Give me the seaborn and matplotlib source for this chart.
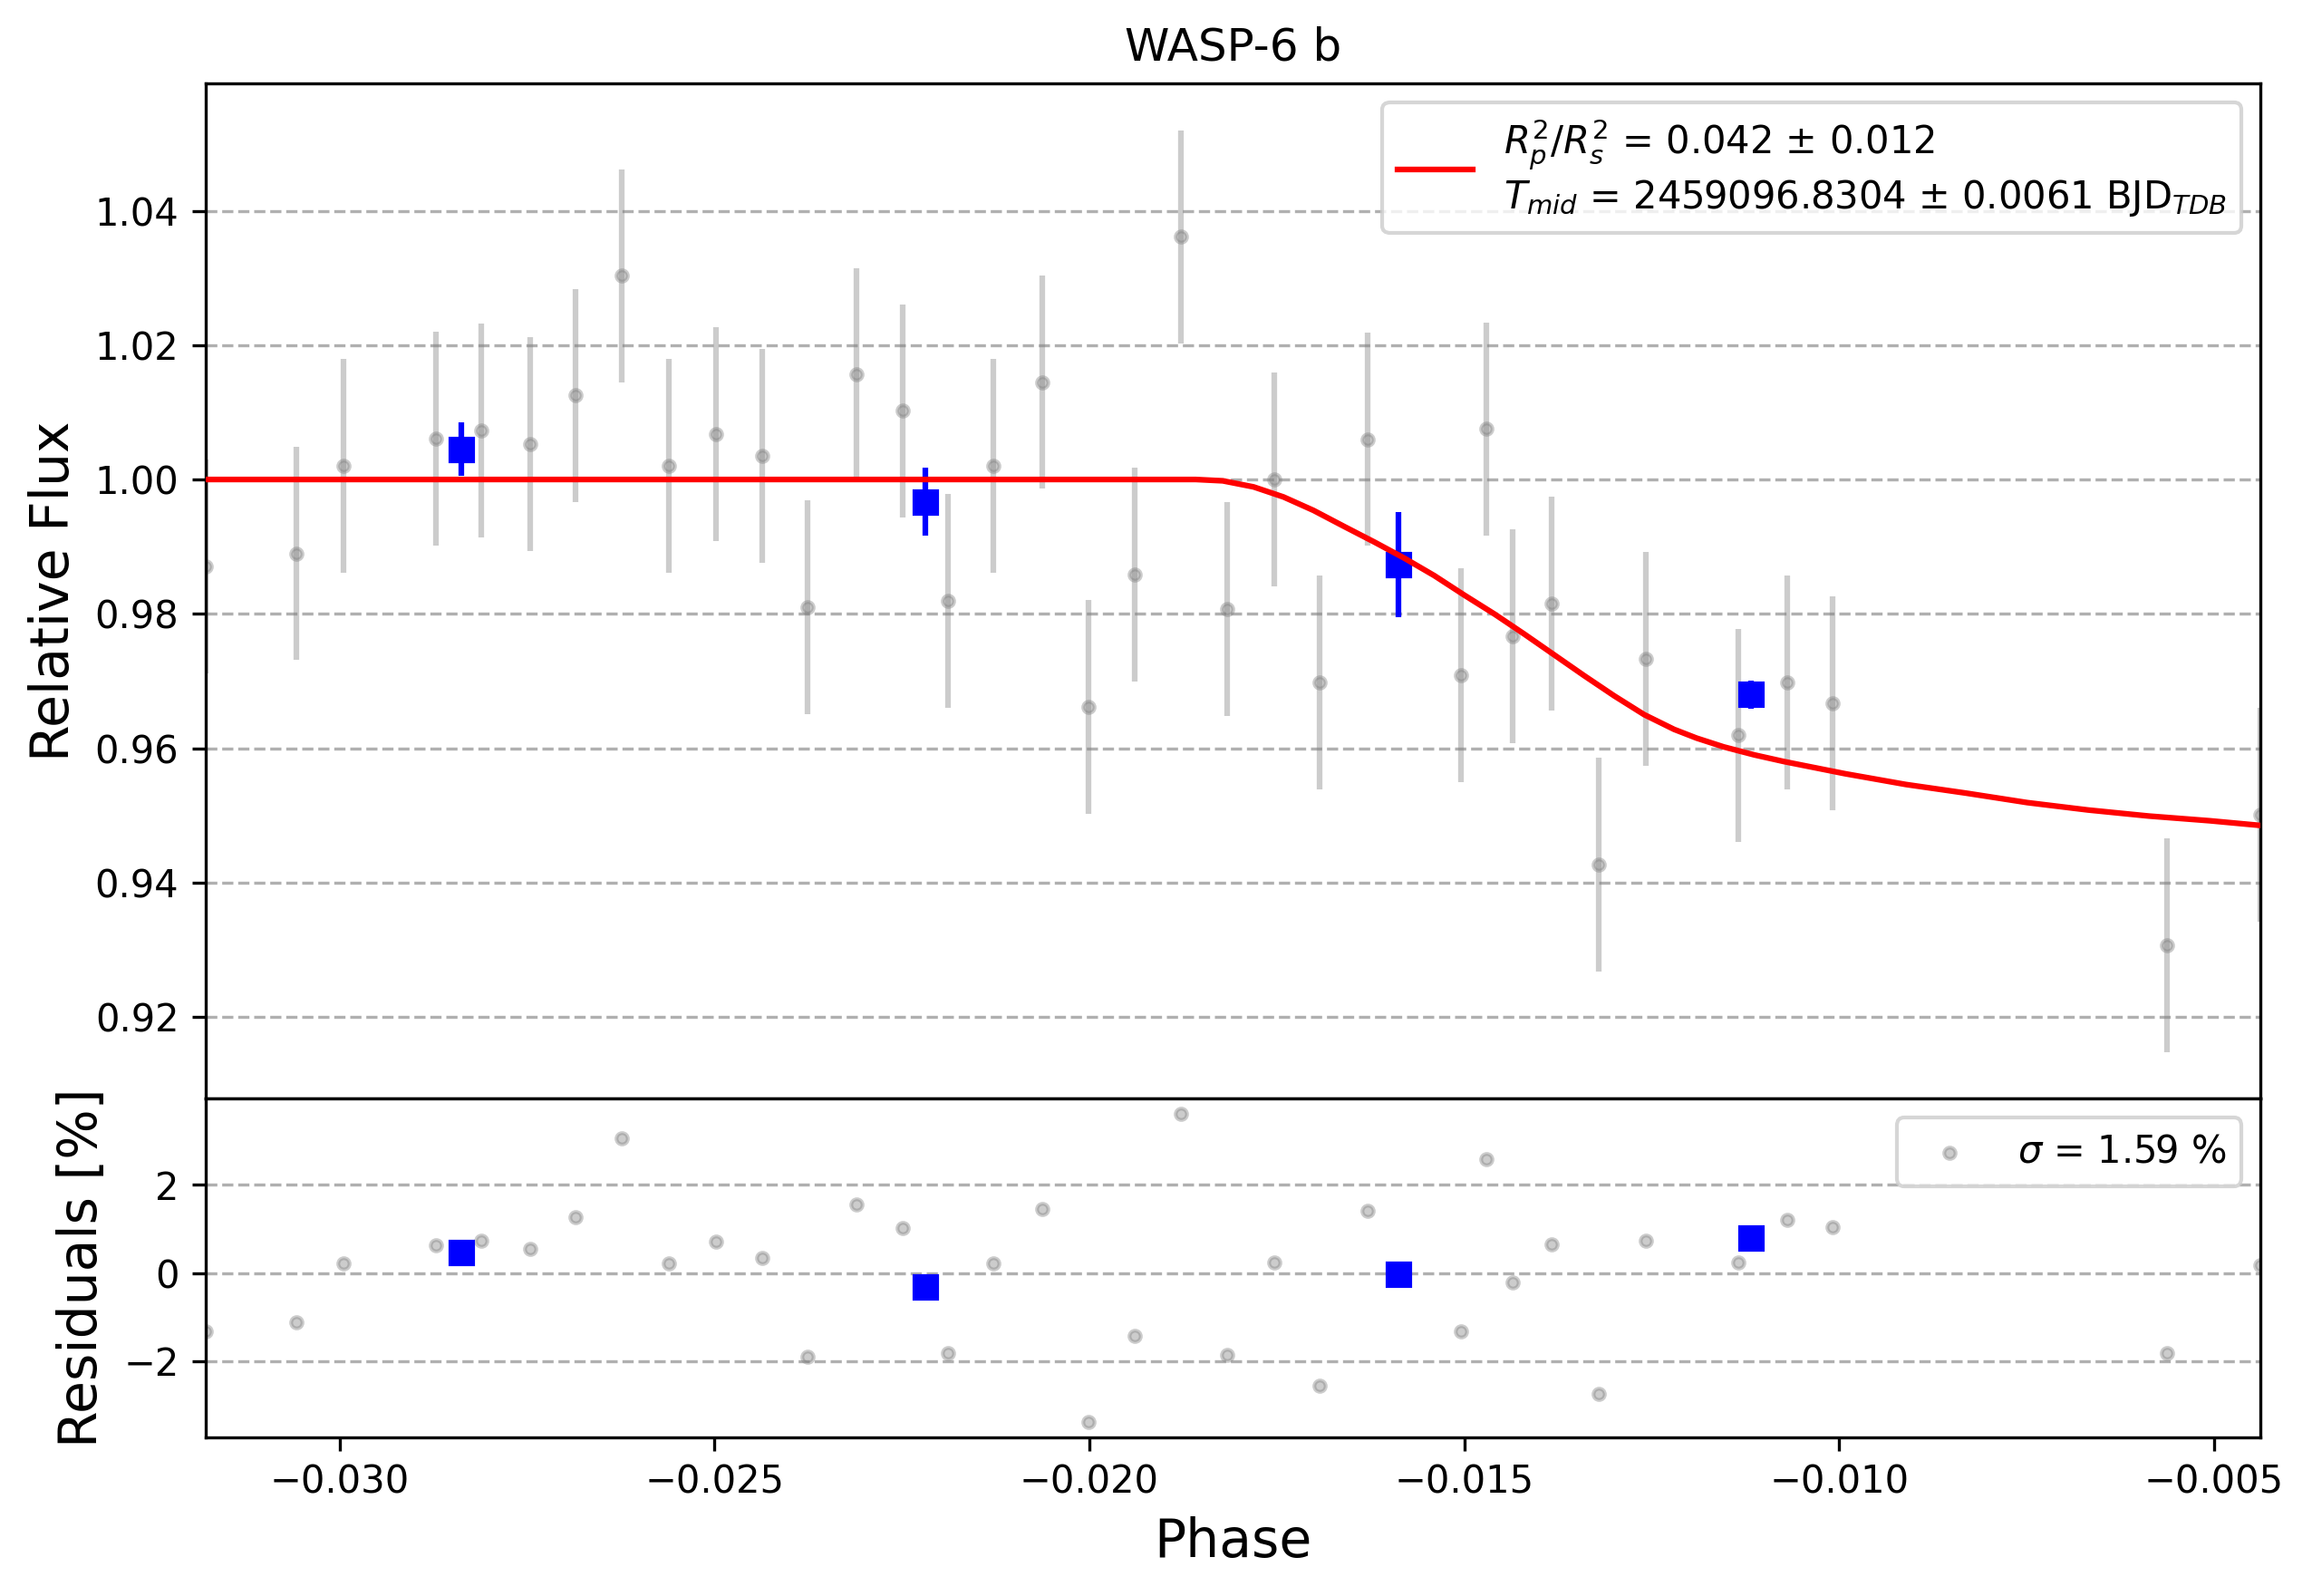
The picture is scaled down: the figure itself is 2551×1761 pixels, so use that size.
# WASP-6 b light curve + residuals
import matplotlib
matplotlib.use("Agg")
import matplotlib.pyplot as plt
import seaborn as sns

# unbinned points
phase = [-0.03179, -0.03058, -0.02995, -0.02871, -0.02811, -0.02746, -0.02685,
         -0.02623, -0.02561, -0.02498, -0.02436, -0.02376, -0.02311, -0.02249,
         -0.02188, -0.02128, -0.02063, -0.02001, -0.01939, -0.01878, -0.01816,
         -0.01753, -0.01693, -0.01629, -0.01504, -0.01470, -0.01435, -0.01383,
         -0.01321, -0.01258, -0.01134, -0.01069, -0.01009, -0.00563, -0.00438]
flux = [0.9871, 0.9890, 1.0020, 1.0061, 1.0073, 1.0053, 1.0125,
        1.0303, 1.0020, 1.0068, 1.0035, 0.9810, 1.0156, 1.0102,
        0.9819, 1.0020, 1.0145, 0.9661, 0.9858, 1.0361, 0.9807,
        1.0000, 0.9698, 1.0060, 0.9709, 1.0075, 0.9767, 0.9815,
        0.9427, 0.9733, 0.9619, 0.9698, 0.9667, 0.9307, 0.9501]
flux_err = 0.0159
resid = [-1.32, -1.11, 0.21, 0.62, 0.74, 0.55, 1.27,
         3.05, 0.21, 0.71, 0.35, -1.90, 1.56, 1.03,
         -1.81, 0.21, 1.46, -3.37, -1.42, 3.60, -1.86,
         0.23, -2.55, 1.41, -1.32, 2.59, -0.22, 0.66,
         -2.75, 0.74, 0.23, 1.21, 1.05, -1.81, 0.18]

# binned points
bin_phase = [-0.02837, -0.02219, -0.01588, -0.01118]
bin_flux = [1.0045, 0.9967, 0.9873, 0.9680]
bin_err = [0.0040, 0.0050, 0.0078, 0.0021]
bin_resid = [0.47, -0.31, -0.02, 0.80]

# transit model
model_phase = [-0.03179, -0.01882, -0.01858, -0.01822, -0.01781, -0.01741,
               -0.01701, -0.01660, -0.01620, -0.01580, -0.01540, -0.01500,
               -0.01460, -0.01420, -0.01380, -0.01340, -0.01300, -0.01260,
               -0.01220, -0.01190, -0.01154, -0.01113, -0.01073, -0.00992,
               -0.00911, -0.00830, -0.00749, -0.00668, -0.00587, -0.00506,
               -0.00438]
model_flux = [1.0, 1.0, 1.0, 0.9998, 0.9989, 0.9974,
              0.9954, 0.9930, 0.9907, 0.9883, 0.9857, 0.9828,
              0.9800, 0.9770, 0.9739, 0.9708, 0.9678, 0.9650,
              0.9628, 0.9615, 0.9602, 0.9590, 0.9580, 0.9562,
              0.9546, 0.9533, 0.9519, 0.9508, 0.9499, 0.9492,
              0.9485]

model_label = ("$R_p^2/R_s^2$ = 0.042 ± 0.012\n"
               "$T_{mid}$ = 2459096.8304 ± 0.0061 BJD$_{TDB}$")
sigma_label = r"$\sigma$ = 1.59 %"

fig = plt.figure(figsize=(2551 / 300, 1761 / 300), dpi=300)
ax1 = fig.add_axes([0.0888, 0.3115, 0.8889, 0.6364])
ax2 = fig.add_axes([0.0888, 0.0996, 0.8889, 0.2119])

# top panel
ax1.errorbar(phase, flux, yerr=flux_err, fmt='.', color='gray', alpha=0.4, zorder=2)
ax1.errorbar(bin_phase, bin_flux, yerr=bin_err, fmt='s', color='blue', zorder=3)
sns.lineplot(x=model_phase, y=model_flux, color='red', lw=1.5, ax=ax1,
             label=model_label, zorder=5)
ax1.set_xlim(phase[0], phase[-1])
ax1.set_ylim(0.9078, 1.0590)
ax1.set_yticks([0.92, 0.94, 0.96, 0.98, 1.00, 1.02, 1.04])
ax1.tick_params(axis='x', bottom=False, labelbottom=False)
ax1.grid(axis='y', ls='--', color='#b0b0b0', lw=0.8)
ax1.set_ylabel("Relative Flux", fontsize=14)
ax1.set_title("WASP-6 b", fontsize=12)
ax1.legend(loc='upper right', fontsize=10)

# residual panel
sns.scatterplot(x=phase, y=resid, color='gray', alpha=0.4, marker='o', s=9,
                edgecolor='gray', linewidth=1, ax=ax2, label=sigma_label, zorder=2)
ax2.plot(bin_phase, bin_resid, 's', color='blue', zorder=3)
ax2.set_xlim(phase[0], phase[-1])
ax2.set_ylim(-3.72, 3.95)
ax2.set_yticks([-2, 0, 2])
ax2.set_xticks([-0.030, -0.025, -0.020, -0.015, -0.010, -0.005])
ax2.grid(axis='y', ls='--', color='#b0b0b0', lw=0.8)
ax2.set_ylabel("Residuals [%]", fontsize=14)
ax2.set_xlabel("Phase", fontsize=14)
ax2.legend(loc='upper right', fontsize=10)

fig.savefig("out.png", dpi=300)
